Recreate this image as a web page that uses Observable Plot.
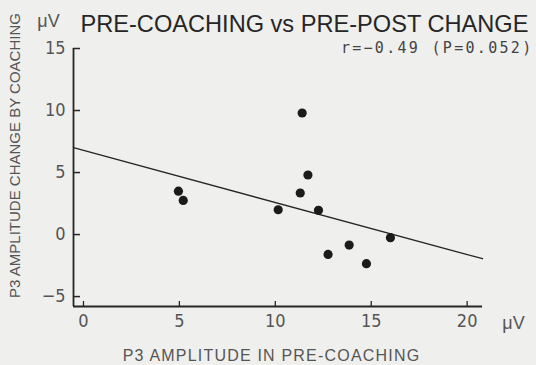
<!DOCTYPE html>
<html>
<head>
<meta charset="utf-8">
<script src="https://cdn.jsdelivr.net/npm/d3@7"></script>
<script src="https://cdn.jsdelivr.net/npm/@observablehq/plot@0.6"></script>
<style>
  html, body { margin: 0; padding: 0; background: #efefed; }
  #chart svg { display: block; }
</style>
</head>
<body>
<div id="chart"></div>
<script>
// Data
const preCoaching = [4.95, 5.2, 10.15, 11.4, 11.7, 11.3, 12.25, 16.0, 13.85, 12.75, 14.75];
const change      = [3.5, 2.75, 2.0, 9.8, 4.8, 3.35, 1.95, -0.25, -0.85, -1.6, -2.35];
const lineX = [-0.52, 20.8];
const lineY = [7.0, -1.95];
const xTicks = [0, 5, 10, 15, 20];
const yTicks = [-5, 0, 5, 10, 15];
const xDomain = [-0.52, 20.8];
const yDomain = [-5.8, 15];
const title = "PRE-COACHING vs PRE-POST CHANGE";
const unitLabel = "μV";
const xLabel = "P3 AMPLITUDE IN PRE-COACHING";
const yLabel = "P3 AMPLITUDE CHANGE BY COACHING";
const stats = "r=−0.49 (P=0.052)";

const points = preCoaching.map((x, i) => ({x, y: change[i]}));
const regression = lineX.map((x, i) => ({x, y: lineY[i]}));

const W = 536, H = 365, mL = 73, mR = 54, mT = 48, mB = 59;
const frameW = W - mL - mR, frameH = H - mT - mB;

const ink = "#262626";
const gray = "#555555";
const narrow = "'Liberation Sans Narrow', 'Arial Narrow', 'DejaVu Sans Condensed', sans-serif";
const sans = "'Liberation Sans', Arial, sans-serif";

const chart = Plot.plot({
  width: W,
  height: H,
  marginLeft: mL,
  marginRight: mR,
  marginTop: mT,
  marginBottom: mB,
  style: {background: "#efefed", color: ink},
  x: {domain: xDomain},
  y: {domain: yDomain},
  marks: [
    Plot.axisX(xTicks, {tickSize: 0, tickPadding: 8, fontSize: 18, fontFamily: narrow, color: gray, label: null}),
    Plot.axisY(yTicks, {tickSize: 0, tickPadding: 8, fontSize: 18, fontFamily: narrow, color: gray, label: null}),
    // inward tick marks
    Plot.tickX(xTicks, {x: d => d, insetTop: frameH - 5, stroke: ink, strokeWidth: 1.3}),
    Plot.tickY(yTicks, {y: d => d, insetRight: frameW - 7, stroke: ink, strokeWidth: 1.5}),
    Plot.ruleY([yDomain[0]], {stroke: ink, strokeWidth: 1.8}),
    Plot.ruleX([xDomain[0]], {stroke: ink, strokeWidth: 1.8}),
    Plot.line(regression, {x: "x", y: "y", stroke: ink, strokeWidth: 1.3}),
    Plot.dot(points, {x: "x", y: "y", r: 4.6, fill: "#1b1b1b", stroke: "none"}),
    Plot.text([title], {frameAnchor: "top-left", text: d => d, dx: 7, dy: -24.5, textAnchor: "start", lineAnchor: "middle", fontSize: 23.6, fontFamily: sans, fill: ink}),
    Plot.text([unitLabel], {frameAnchor: "top-left", text: d => d, dx: -25, dy: -27, textAnchor: "middle", lineAnchor: "middle", fontSize: 18, fontFamily: sans, fill: gray}),
    Plot.text([unitLabel], {frameAnchor: "bottom-right", text: d => d, dx: 31, dy: 17, textAnchor: "middle", lineAnchor: "middle", fontSize: 18, fontFamily: sans, fill: gray}),
    Plot.text([yLabel], {frameAnchor: "left", text: d => d, dx: -58, dy: -22, rotate: -90, textAnchor: "middle", lineAnchor: "middle", fontSize: 15, fontFamily: sans, fill: gray}),
    Plot.text([xLabel], {frameAnchor: "bottom", text: d => d, dx: -6.5, dy: 49, textAnchor: "middle", lineAnchor: "middle", fontSize: 16, fontFamily: sans, fill: gray}),
    Plot.text([stats], {frameAnchor: "top-right", text: d => d, dx: 51, dy: 0, textAnchor: "end", lineAnchor: "middle", fontSize: 15, fontFamily: "'DejaVu Sans Mono', monospace", fill: "#444444"})
  ]
});
// letter spacing for the spaced-out labels
d3.select(chart).selectAll("text").each(function() {
  const t = this.textContent;
  if (t === xLabel) this.setAttribute("letter-spacing", "1.2px");
  if (t === stats) this.setAttribute("letter-spacing", "2.3px");
});
document.getElementById("chart").appendChild(chart);
</script>
</body>
</html>
